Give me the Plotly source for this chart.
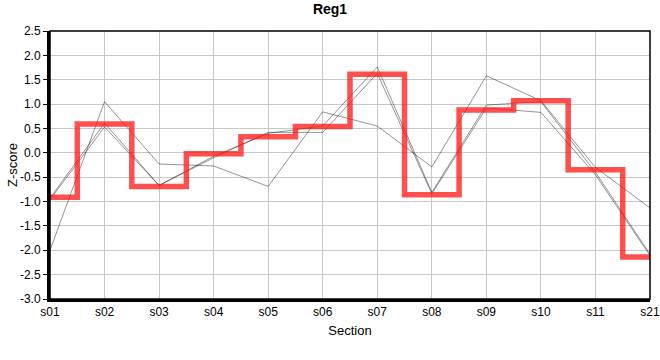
import plotly.graph_objects as go

sections = ["s01", "s02", "s03", "s04", "s05", "s06", "s07", "s08", "s09", "s10", "s11", "s21"]

consensus = [-0.91, 0.59, -0.69, -0.02, 0.33, 0.54, 1.61, -0.86, 0.88, 1.07, -0.35, -2.14]

sample_a = [-2.0, 1.05, -0.23, -0.27, -0.69, 0.84, 0.55, -0.29, 1.58, 1.07, -0.30, -1.13]
sample_b = [-0.93, 0.61, -0.67, -0.07, 0.40, 0.55, 1.76, -0.81, 0.98, 1.05, -0.40, -2.08]
sample_c = [-0.96, 0.53, -0.67, -0.10, 0.42, 0.42, 1.63, -0.84, 0.92, 0.83, -0.45, -2.11]

ytick_vals = [2.5, 2.0, 1.5, 1.0, 0.5, 0.0, -0.5, -1.0, -1.5, -2.0, -2.5, -3.0]
ytick_text = ["2.5", "2.0", "1.5", "1.0", "0.5", "0.0", "-0.5", "-1.0", "-1.5", "-2.0", "-2.5", "-3.0"]

fig = go.Figure()
for s in (sample_a, sample_b, sample_c):
    fig.add_trace(go.Scatter(x=sections, y=s, mode="lines",
                             line=dict(color="rgba(0,0,0,0.42)", width=1),
                             showlegend=False, hoverinfo="skip"))
fig.add_trace(go.Scatter(x=sections, y=consensus, mode="lines",
                         line=dict(color="rgba(255,20,20,0.75)", width=5.5, shape="hvh"),
                         showlegend=False))

fig.update_layout(
    width=660, height=360,
    margin=dict(l=50, r=10, t=31, b=61),
    paper_bgcolor="white", plot_bgcolor="white",
    font=dict(family="Liberation Sans, Arial, sans-serif", size=12, color="black"),
    title=dict(text="<b>Reg1</b>", x=0.5, xanchor="center", y=1 - 9 / 360, yanchor="middle",
               font=dict(size=14)),
    xaxis=dict(type="category", range=[0, len(sections) - 1], automargin=False,
               showgrid=True, gridcolor="#c8c8c8", gridwidth=1,
               showline=True, linecolor="black", linewidth=3,
               ticks="", zeroline=False,
               title=dict(text="Section", standoff=8, font=dict(size=13))),
    yaxis=dict(range=[-3.0, 2.5], tickvals=ytick_vals, ticktext=ytick_text, automargin=False,
               showgrid=True, gridcolor="#c8c8c8", gridwidth=1,
               showline=True, linecolor="black", linewidth=3,
               ticks="outside", ticklen=4, tickcolor="black", tickwidth=1,
               zeroline=False,
               title=dict(text="Z-score", standoff=0, font=dict(size=13))),
    shapes=[dict(type="rect", xref="paper", yref="paper", x0=0, x1=1, y0=0, y1=1,
                 line=dict(color="black", width=1.5), layer="above")],
)

fig.write_html("out.html", config={"displayModeBar": False},
               post_script="document.body.style.margin='0';")
